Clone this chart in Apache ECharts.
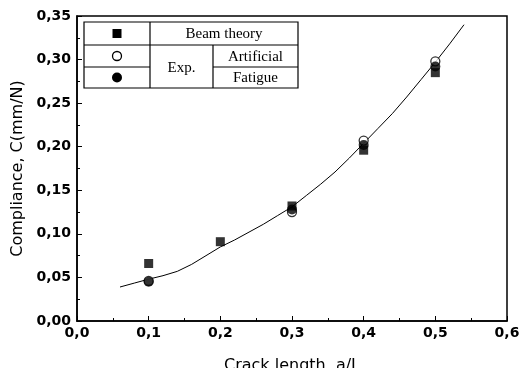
<!DOCTYPE html>
<html><head><meta charset="utf-8">
<script src="https://cdn.jsdelivr.net/npm/echarts@6/dist/echarts.min.js"></script>
<style>html,body{margin:0;padding:0;background:#fff}#c{width:526px;height:368px}</style>
</head><body><div id="c"></div>
<script>
const xTicks = [0.0, 0.1, 0.2, 0.3, 0.4, 0.5, 0.6];
const yTicks = [0.00, 0.05, 0.10, 0.15, 0.20, 0.25, 0.30, 0.35];
const legendNames = ['Beam theory', 'Exp.', 'Artificial', 'Fatigue'];

const beamX = [0.1, 0.2, 0.3, 0.4, 0.5];
const beamY = [0.066, 0.091, 0.132, 0.196, 0.285];
const artX = [0.1, 0.3, 0.4, 0.5];
const artY = [0.046, 0.125, 0.207, 0.298];
const fatX = [0.1, 0.3, 0.4, 0.5];
const fatY = [0.045, 0.128, 0.202, 0.292];
const fitX = [0.06,0.08,0.10,0.12,0.14,0.16,0.18,0.20,0.22,0.24,0.26,0.28,0.30,0.32,0.34,0.36,0.38,0.40,0.42,0.44,0.46,0.48,0.50,0.52,0.54];
const fitY = [0.039,0.0435,0.048,0.052,0.057,0.065,0.075,0.085,0.093,0.102,0.111,0.121,0.131,0.144,0.157,0.171,0.187,0.204,0.221,0.238,0.257,0.277,0.297,0.318,0.340];

const zip = (a, b) => a.map((v, i) => [v, b[i]]);
const chart = echarts.init(document.getElementById('c'));
const tickFont = {color:'#000', fontFamily:'DejaVu Sans, Arial, sans-serif', fontSize:14, fontWeight:'bold'};
const titleFont = {color:'#000', fontFamily:'DejaVu Sans, Arial, sans-serif', fontSize:16};
const serif = {fontFamily:'Liberation Serif, Times New Roman, serif', fontSize:15, fill:'#000'};

// legend table (layout only)
const L = 84, T = 22, R = 298, B = 88, C1 = 150, C2 = 213, H1 = 45, H2 = 67;
const ln = (x1,y1,x2,y2) => ({type:'line', shape:{x1,y1,x2,y2}, style:{stroke:'#000', lineWidth:1.2}});
const graphics = [
  {type:'rect', shape:{x:L, y:T, width:R-L, height:B-T}, style:{fill:'#fff', stroke:'#000', lineWidth:1.2}},
  ln(C1,T,C1,B), ln(C2,H1,C2,B), ln(L,H1,R,H1), ln(L,H2,C1,H2), ln(C2,H2,R,H2),
  {type:'text', x:(C1+R)/2, y:(T+H1)/2+1, style:Object.assign({text:legendNames[0], align:'center', verticalAlign:'middle'}, serif)},
  {type:'text', x:(C1+C2)/2, y:(H1+B)/2+2, style:Object.assign({text:legendNames[1], align:'center', verticalAlign:'middle'}, serif)},
  {type:'text', x:(C2+R)/2, y:(H1+H2)/2+1, style:Object.assign({text:legendNames[2], align:'center', verticalAlign:'middle'}, serif)},
  {type:'text', x:(C2+R)/2, y:(H2+B)/2+1, style:Object.assign({text:legendNames[3], align:'center', verticalAlign:'middle'}, serif)},
  {type:'rect', shape:{x:(L+C1)/2-4.5, y:(T+H1)/2-4.5, width:9, height:9}, style:{fill:'#000'}},
  {type:'circle', shape:{cx:(L+C1)/2, cy:(H1+H2)/2, r:4.5}, style:{fill:'#fff', stroke:'#000', lineWidth:1.3}},
  {type:'circle', shape:{cx:(L+C1)/2, cy:(H2+B)/2, r:5}, style:{fill:'#000'}}
];

chart.setOption({
  animation:false,
  backgroundColor:'#fff',
  grid:{left:77, right:19, top:16, bottom:47, containLabel:false, outerBoundsMode:'none', show:true, borderColor:'#000', borderWidth:1.5},
  xAxis:{type:'value', min:0, max:0.6, interval:0.1,
    axisLine:{show:true, lineStyle:{color:'#000', width:1.5}},
    axisTick:{show:true, inside:true, length:5, lineStyle:{color:'#000'}},
    minorTick:{show:true, splitNumber:2, length:3, lineStyle:{color:'#000'}},
    splitLine:{show:false},
    axisLabel:Object.assign({margin:5, formatter:v => v.toFixed(1).replace('.', ',')}, tickFont),
    name:'Crack length, a/L', nameLocation:'middle', nameGap:37,
    nameTextStyle:titleFont
  },
  yAxis:{type:'value', min:0, max:0.35, interval:0.05,
    axisLine:{show:true, lineStyle:{color:'#000', width:1.5}},
    axisTick:{show:true, inside:true, length:5, lineStyle:{color:'#000'}},
    minorTick:{show:true, splitNumber:2, length:3, lineStyle:{color:'#000'}},
    splitLine:{show:false},
    axisLabel:Object.assign({margin:6, formatter:v => v.toFixed(2).replace('.', ',')}, tickFont),
    name:'Compliance, C(mm/N)', nameLocation:'middle', nameGap:50,
    nameTextStyle:titleFont
  },
  graphic:graphics,
  series:[
    {type:'line', data:zip(fitX, fitY), smooth:false, showSymbol:false, lineStyle:{color:'#000', width:1}, z:1},
    {type:'scatter', data:zip(artX, artY), symbol:'circle', symbolSize:9, itemStyle:{color:'#fff', borderColor:'#000', borderWidth:1.3}, z:2},
    {type:'scatter', data:zip(fatX, fatY), symbol:'circle', symbolSize:10, itemStyle:{color:'#000'}, z:3},
    {type:'scatter', data:zip(beamX, beamY), symbol:'rect', symbolSize:9, itemStyle:{color:'#000'}, z:4}
  ]
});
</script></body></html>
